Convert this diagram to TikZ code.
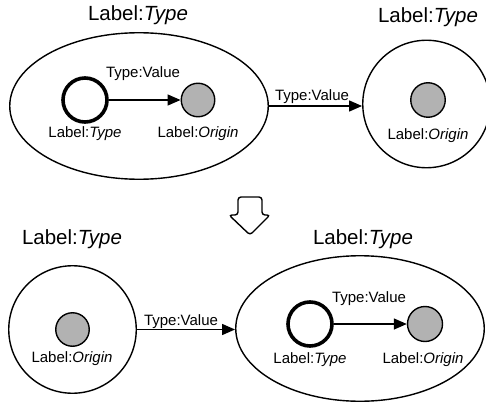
\documentclass[tikz,border=0pt]{standalone}
\usepackage{fontspec}
\setmainfont{Liberation Sans}
\usepackage{tikz}
\usetikzlibrary{shapes.geometric,positioning,calc,arrows.meta}

\begin{document}
\begin{tikzpicture}[x=1pt,y=-1pt,
    outer/.style={draw, ellipse, line width=1.4pt, inner sep=0pt},
    ring/.style={draw, circle, line width=1.4pt, inner sep=0pt, minimum size=127.5pt},
    typenode/.style={draw, circle, line width=3.6pt, inner sep=0pt, minimum size=44pt},
    originnode/.style={draw, circle, fill=gray!60, line width=1.4pt, inner sep=0pt, minimum size=33.5pt},
    title/.style={font=\fontsize{20.5}{24}\selectfont, inner sep=0pt},
    small/.style={font=\fontsize{15}{18}\selectfont, inner sep=0pt},
    edge/.style={line width=1.4pt, -{Triangle[length=13pt,width=11pt]}}]
    \useasboundingbox (0,0) rectangle (486,403);

    % Top left: nested pair
    \node[outer, minimum width=258.5pt, minimum height=146.5pt] (outerA) at (139,106) {};
    \node[title] (titleA) at (138,15) {Label:\textit{Type}};
    \node[typenode] (typeA) at (85,100) {};
    \node[originnode] (originA) at (198,100) {};
    \node[small] (labelTypeA) at (85,134) {Label:\textit{Type}};
    \node[small] (labelOriginA) at (198,134) {Label:\textit{Origin}};
    \node[small] (valueA) at (143,74) {Type:Value};
    \draw[edge] (typeA) -- (originA);

    % Top right: single ring
    \node[ring] (ringB) at (426.5,104) {};
    \node[title] (titleB) at (428,17) {Label:\textit{Type}};
    \node[originnode, minimum size=34.5pt] (originB) at (428,100) {};
    \node[small] (labelOriginB) at (428,136) {Label:\textit{Origin}};
    \node[small] (valueB) at (312,97) {Type:Value};
    \draw[edge] (outerA.east) -- (outerA.east -| ringB.west);

    % Down arrow
    \draw[line width=1.4pt, rounded corners=3pt] (238,215) -- (238,197) -- (262,197) -- (262,215)
        -- (270,215) -- (250,235) -- (229,215) -- cycle;

    % Bottom left: single ring
    \node[ring] (ringC) at (72.5,329.5) {};
    \node[title] (titleC) at (72,239) {Label:\textit{Type}};
    \node[originnode] (originC) at (72.5,329.5) {};
    \node[small] (labelOriginC) at (72,359) {Label:\textit{Origin}};
    \node[small] (valueC) at (181,322) {Type:Value};

    % Bottom right: nested pair
    \node[outer, minimum width=248.5pt, minimum height=145.5pt] (outerD) at (360,328.5) {};
    \node[title] (titleD) at (363,239) {Label:\textit{Type}};
    \node[typenode] (typeD) at (310,324) {};
    \node[originnode, minimum size=35pt] (originD) at (425,324) {};
    \node[small] (labelTypeD) at (310,360) {Label:\textit{Type}};
    \node[small] (labelOriginD) at (423,360) {Label:\textit{Origin}};
    \node[small] (valueD) at (369,299) {Type:Value};
    \draw[edge] (typeD) -- (originD);
    \draw[edge] (ringC.east) -- (ringC.east -| outerD.west);
\end{tikzpicture}
\end{document}
